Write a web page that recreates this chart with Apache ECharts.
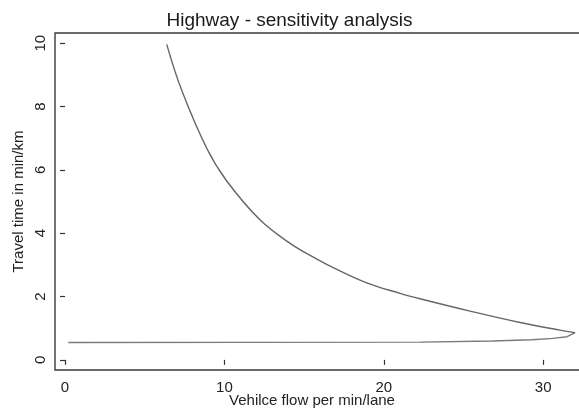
<!DOCTYPE html>
<html>
<head>
<meta charset="utf-8">
<script src="https://cdn.jsdelivr.net/npm/echarts@6/dist/echarts.min.js"></script>
<style>
  html, body { margin: 0; padding: 0; background: #ffffff; }
  #chart { width: 579px; height: 412px; }
</style>
</head>
<body>
<div id="chart"></div>
<script>
// ---- data ----
var titleText = 'Highway - sensitivity analysis';
var xTitle = 'Vehilce flow per min/lane';
var yTitle = 'Travel time in min/km';

var xTicks = [0, 10, 20, 30];
var yTicks = [0, 2, 4, 6, 8, 10];

// free-flow (lower) branch, from low flow up to the capacity tip
var lowerX = [0.2, 22.3, 26.8, 29.3, 30.6, 31.5, 32.0];
var lowerY = [0.547, 0.56, 0.595, 0.635, 0.68, 0.73, 0.86];

// congested (upper) branch, from the capacity tip back to high travel time
var upperX = [32.0, 31.05, 28.55, 25.41, 22.27, 21.02, 18.93, 16.83, 15.95, 14.12, 12.23, 10.1, 8.89, 7.32, 6.38];
var upperY = [0.86, 0.94, 1.18, 1.54, 1.93, 2.10, 2.43, 2.91, 3.14, 3.68, 4.42, 5.68, 6.68, 8.51, 9.96];

function zip(a, b) { return a.map(function (v, i) { return [v, b[i]]; }); }

var font = '"Liberation Sans", Arial, sans-serif';
var chart = echarts.init(document.getElementById('chart'), null, { renderer: 'canvas' });

chart.setOption({
  animation: false,
  backgroundColor: '#ffffff',
  textStyle: { fontFamily: font },
  title: {
    text: titleText,
    left: 'center',
    top: 6,
    textStyle: { fontFamily: font, fontSize: 19, fontWeight: 'normal', color: '#1a1a1a' }
  },
  grid: {
    left: 55, top: 33, right: -12, bottom: 42,
    containLabel: false,
    outerBoundsMode: 'none',
    show: true, borderColor: '#3a3a3a', borderWidth: 1.4, backgroundColor: 'transparent'
  },
  xAxis: {
    type: 'value',
    min: -0.63, max: 33.0,
    name: xTitle,
    nameLocation: 'middle',
    nameGap: 23,
    nameMoveOverlap: false,
    nameTextStyle: { fontFamily: font, fontSize: 15, color: '#222', padding: [0, 22, 0, 0] },
    axisLine: { show: false },
    splitLine: { show: false },
    axisTick: { show: true, length: 5, customValues: xTicks, lineStyle: { color: '#333', width: 1.2 } },
    axisLabel: { customValues: xTicks, margin: 10, fontFamily: font, fontSize: 15, color: '#222' }
  },
  yAxis: {
    type: 'value',
    min: -0.32, max: 10.32,
    name: yTitle,
    nameLocation: 'middle',
    nameGap: 29,
    nameMoveOverlap: false,
    nameTextStyle: { fontFamily: font, fontSize: 15, color: '#222' },
    axisLine: { show: false },
    splitLine: { show: false },
    axisTick: { show: true, length: 5, customValues: yTicks, lineStyle: { color: '#333', width: 1.2 } },
    axisLabel: { customValues: yTicks, rotate: 90, margin: 7, fontFamily: font, fontSize: 15, color: '#222' }
  },
  series: [
    {
      type: 'line',
      data: zip(lowerX, lowerY),
      symbol: 'none',
      lineStyle: { color: '#7a7a7a', width: 1.4 }
    },
    {
      type: 'line',
      data: zip(upperX, upperY),
      symbol: 'none',
      smooth: 0.4,
      lineStyle: { color: '#666666', width: 1.4 }
    }
  ]
});
</script>
</body>
</html>
